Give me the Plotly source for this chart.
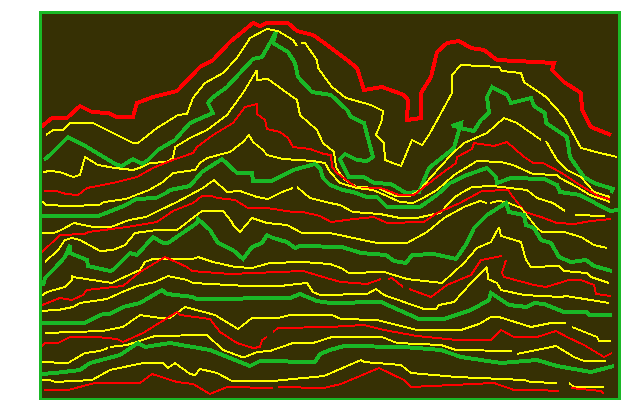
import plotly.graph_objects as go

RED = "#ff0000"
YELLOW = "#ffff00"
GREEN = "#1ab826"
BG = "#363004"

r1_x = [41,52,67,80,92,108,117,133,137,153,177,187,200,213,230,253,260,267,288,297,313,323,334,347,357,364,382,404,408,407,421,421,431,437,447,459,471,484,497,554,552,564,581,582,591,611]
r1_y = [127,118,118,106,112,113,117,117,103,97,91,80,67,60,42,23,26,23,23,31,35,42,50,60,68,90,87,95,100,120,118,93,77,52,43,41,48,50,60,63,70,82,93,110,127,135]

y2_x = [46,53,63,70,93,113,133,138,157,178,187,193,205,223,237,250,267,278,293,297,None,301,305,317,318,332,346,371,383,382,376,384,385,401,412,422,429,452,452,461,499,502,521,524,546,564,581,596,617]
y2_y = [135,130,130,123,123,133,143,143,128,115,114,98,83,73,58,38,29,31,40,46,None,43,43,60,68,87,98,105,111,120,135,143,160,166,140,145,135,93,75,65,67,71,73,82,97,117,148,152,157]

g3_x = [44,50,68,87,117,122,133,142,148,158,175,190,213,208,212,227,253,262,270,276,273,288,295,298,312,331,347,351,364,373,367,357,345,340,349,364,374,391,406,419,429,441,454,460,452,461,460,474,481,489,487,492,507,511,531,534,545,546,567,570,584,594,613,611]
g3_y = [160,155,137,147,165,166,159,164,160,150,140,123,113,103,98,87,59,57,43,32,43,52,63,77,92,95,110,117,123,157,161,160,154,159,177,177,183,184,193,192,168,158,148,127,126,123,128,131,120,113,97,87,95,103,98,106,113,123,137,157,177,183,189,193]

y4_x = [43,50,60,73,80,85,98,115,133,142,150,167,173,175,190,207,227,243,252,257,257,268,283,297,300,317,323,334,336,339,345,357,378,395,410,420,431,451,464,487,504,517,541,None,546,557,567,581,594,610]
y4_y = [172,171,172,177,175,157,165,168,170,167,163,162,158,147,138,130,115,93,78,70,80,79,90,100,115,130,143,152,167,172,180,187,188,196,196,190,177,155,143,133,118,123,140,None,141,160,170,177,192,197]

r5_x = [44,56,66,78,87,113,137,153,170,193,197,213,233,245,257,257,265,267,280,288,293,310,324,331,332,337,357,381,399,414,437,456,457,472,474,494,507,523,533,543,560,583,600,610]
r5_y = [191,191,194,195,188,183,177,168,161,153,147,135,123,107,104,114,120,129,132,138,147,149,154,155,167,173,188,188,195,195,177,163,157,149,143,146,142,156,163,163,172,187,197,199]

y6_x = [38,46,69,99,104,126,136,149,163,173,195,200,207,230,243,249,253,263,267,283,313,325,330,340,357,373,387,400,413,423,437,454,477,501,513,533,557,560,577,590,610]
y6_y = [198,205,206,205,202,199,195,190,182,173,170,163,158,152,142,135,142,150,155,159,161,163,172,183,188,190,196,202,203,198,190,175,161,162,165,174,175,178,187,195,202]

g7_x = [42,98,106,126,136,156,166,170,190,202,222,237,252,253,272,293,315,320,323,330,343,353,367,377,387,420,437,450,467,487,496,497,511,544,557,560,580,600,610,618]
g7_y = [216,216,213,205,199,198,193,190,186,172,159,173,173,181,181,170,164,168,178,185,190,192,197,197,207,207,195,183,175,168,177,183,178,179,185,192,195,205,211,210]

y8_x = [36,54,61,74,93,111,129,146,160,177,203,214,227,240,257,268,282,293,None,297,310,330,340,353,380,400,417,430,440,448,455,463,472,493,527,537,553,565,None,575,605]
y8_y = [233,233,230,223,227,227,220,217,210,202,188,180,192,191,197,199,192,188,None,187,198,203,205,212,214,218,218,215,213,204,197,192,187,186,190,198,203,211,None,215,216]

r9_x = [41,52,60,85,88,127,157,173,193,202,212,217,235,248,267,293,303,320,331,354,374,387,424,437,460,482,508,513,525,541,557,574,591,611]
r9_y = [253,243,235,234,232,227,222,211,203,196,196,198,200,208,208,212,212,216,222,219,217,223,222,213,203,191,190,197,212,217,223,224,221,219]

y10_x = [45,52,58,65,72,80,100,113,125,135,157,177,190,202,223,232,233,240,252,267,287,302,330,354,377,407,427,444,464,480,487,None,490,498,506,521,537,542,564,581,594,607]
y10_y = [262,255,250,240,238,240,251,250,245,233,230,230,220,211,211,222,225,232,218,223,225,233,233,238,243,243,232,218,207,201,203,None,203,201,202,208,228,232,232,237,245,248]

g11_x = [43,45,55,65,70,70,87,88,110,113,130,137,153,163,168,197,198,210,218,233,243,252,262,267,273,287,295,300,342,361,386,394,406,412,434,456,467,474,487,506,509,524,526,534,541,551,559,571,586,594,612]
g11_y = [286,278,268,257,245,253,260,266,271,270,253,255,237,243,243,223,219,230,243,250,259,247,243,235,238,242,248,246,247,253,255,261,263,255,254,259,243,228,215,203,212,215,225,228,240,243,257,262,260,266,271]

y12_x = [41,47,65,72,72,73,112,118,140,145,153,193,198,213,235,252,270,303,330,341,349,384,407,442,464,477,491,499,501,521,526,531,559,564,587,591,609]
y12_y = [296,292,287,280,275,277,283,280,270,262,259,259,257,262,267,268,263,262,264,268,273,272,279,283,263,248,242,227,236,242,260,267,266,271,273,277,283]

r13_x = [37,50,60,72,83,87,123,140,165,187,192,230,270,303,330,341,367,381,None,388,392,403,None,409,431,447,471,481,502,None,506,502,504,534,546,569,581,594,596,611]
r13_y = [307,302,298,300,295,290,286,272,257,267,271,274,272,271,279,282,284,279,None,279,278,287,None,289,297,285,275,260,256,None,260,273,277,285,287,280,280,285,294,296]

y14_x = [38,58,73,80,107,120,137,155,168,187,193,247,280,307,313,320,367,376,384,404,424,436,439,454,472,487,488,497,501,524,561,566,609]
y14_y = [311,310,307,303,299,293,286,282,276,280,283,286,286,283,292,295,294,289,295,302,309,309,305,302,282,267,279,283,290,295,297,296,303]

g15_x = [42,85,103,110,123,140,162,167,193,196,290,300,317,330,381,419,444,471,489,491,509,527,534,544,564,587,589,612]
g15_y = [323,323,314,314,307,303,290,294,297,299,298,294,301,303,302,319,319,310,300,293,305,307,303,304,312,312,315,315]

y16_x = [45,72,102,123,140,160,170,185,193,215,238,252,278,290,332,341,377,404,417,461,479,491,499,531,551,566,None,572,597,599,611]
y16_y = [333,332,331,327,315,318,318,307,309,315,329,318,318,315,315,319,320,327,330,330,324,317,317,327,323,323,None,327,337,341,341]

r17_x = [40,45,58,70,97,117,123,143,177,180,210,220,237,253,260,262,267,None,273,278,330,364,384,417,457,491,501,514,537,556,567,584,604,612]
r17_y = [348,343,343,337,337,339,342,333,312,315,319,332,343,348,347,340,337,None,332,328,327,325,330,336,340,340,330,337,337,331,337,345,357,353]

y18_x = [40,68,85,100,108,None,110,127,155,207,223,242,245,257,270,293,313,332,382,397,441,456,512,None,517,556,574,584,606]
y18_y = [362,363,353,351,348,None,347,345,336,335,350,357,357,352,351,343,343,337,337,343,345,350,351,None,354,346,357,361,361]

g19_x = [42,55,80,90,120,138,145,170,210,250,260,315,320,330,344,404,441,461,501,537,557,591,614]
g19_y = [374,373,370,363,355,343,347,343,350,366,361,362,354,350,346,347,350,357,363,360,366,372,366]

y20_x = [40,50,55,92,110,143,163,168,175,190,195,200,217,232,273,324,361,364,401,411,457,524,531,557,None,569,574,604]
y20_y = [380,380,382,380,370,363,363,368,363,374,375,369,373,381,381,376,360,362,365,373,377,380,382,383,None,383,387,387]

r21_x = [44,68,95,140,152,177,193,210,227,273,None,278,324,341,357,379,404,411,494,514,537,559,None,571,601,604]
r21_y = [390,390,383,383,374,382,384,394,387,388,None,387,388,384,377,368,380,387,383,390,390,391,None,388,391,394]

series = [
    (r1_x, r1_y, RED, 4), (y2_x, y2_y, YELLOW, 2), (g3_x, g3_y, GREEN, 4),
    (y4_x, y4_y, YELLOW, 2), (r5_x, r5_y, RED, 2), (y6_x, y6_y, YELLOW, 2),
    (g7_x, g7_y, GREEN, 4), (y8_x, y8_y, YELLOW, 2), (r9_x, r9_y, RED, 2),
    (y10_x, y10_y, YELLOW, 2), (g11_x, g11_y, GREEN, 4), (y12_x, y12_y, YELLOW, 2),
    (r13_x, r13_y, RED, 2), (y14_x, y14_y, YELLOW, 2), (g15_x, g15_y, GREEN, 4),
    (y16_x, y16_y, YELLOW, 2), (r17_x, r17_y, RED, 2), (y18_x, y18_y, YELLOW, 2),
    (g19_x, g19_y, GREEN, 4), (y20_x, y20_y, YELLOW, 2), (r21_x, r21_y, RED, 2),
]

fig = go.Figure()
for xs, ys, color, width in series:
    fig.add_trace(go.Scatter(x=xs, y=ys, mode="lines", cliponaxis=False, hoverinfo="skip",
                             line=dict(color=color, width=width, shape="linear"),
                             connectgaps=False, showlegend=False))

axis_style = dict(showgrid=False, zeroline=False, showticklabels=False, ticks="",
                  showline=True, linecolor=GREEN, linewidth=3, mirror=True)
fig.update_xaxes(range=[42, 618], **axis_style)
fig.update_yaxes(range=[398, 14], **axis_style)
fig.update_layout(width=624, height=400, autosize=False, paper_bgcolor="white", plot_bgcolor=BG,
                  margin=dict(l=42, r=6, t=14, b=2))

fig.write_html("out.html", config={"displayModeBar": False},
               post_script="document.body.style.margin='0';document.querySelectorAll('.scatterlayer path').forEach(p=>p.style.shapeRendering='crispEdges');")
